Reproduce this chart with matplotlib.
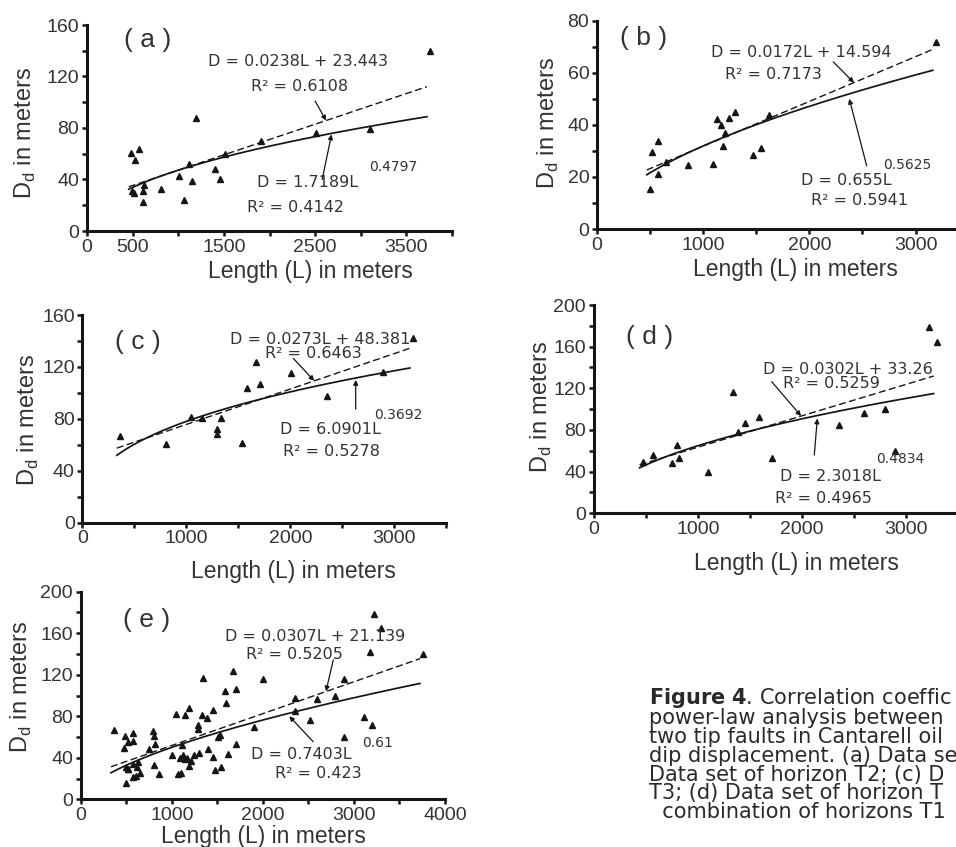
import matplotlib
matplotlib.use('Agg')
import matplotlib.pyplot as plt
import numpy as np

plt.rcParams['font.family'] = ['Liberation Sans', 'DejaVu Sans']

# (a) horizon T1: fault length L (m) vs dip displacement Dd (m)
a_len = [487, 524, 571, 498, 520, 615, 612, 626, 810, 1007, 1066, 1113, 1147, 1194,
         1403, 1458, 1513, 1908, 2513, 3106, 3755]
a_dd = [60.6, 55, 64, 31, 29.5, 31, 22.5, 36, 33, 43, 24, 52, 39, 88,
        48, 40.7, 60, 70, 76, 79.5, 139.6]

# (b) horizon T2
b_len = [499, 515, 578, 578, 650, 860, 1096, 1127, 1165, 1184, 1206, 1246, 1300,
         1473, 1545, 1620, 3193]
b_dd = [15.3, 29.5, 33.9, 21.2, 25.6, 24.7, 25, 42.3, 40, 32, 37, 42.7, 44.9,
        28.5, 31.3, 43.6, 71.7]

# (c) horizon T3
c_len = [362, 801, 1045, 1147, 1330, 1292, 1292, 1532, 1587, 1670, 1708, 2006, 2349, 2888, 3180]
c_dd = [67, 61, 81.7, 81, 81, 72, 68, 61.6, 104, 124, 106.6, 115.6, 97.8, 116, 142]

# (d) horizon T4
d_len = [470, 573, 749, 797, 819, 1094, 1341, 1389, 1453, 1590, 1709, 2355, 2595,
         2797, 2893, 3219, 3293]
d_dd = [49, 56, 48.6, 65.6, 52.8, 40, 116.8, 78.4, 86.4, 92.8, 53.4, 84.8, 96.6,
        100, 60, 178.6, 164.8]

# (e) all horizons together
e_len = a_len + b_len + c_len + d_len
e_dd = a_dd + b_dd + c_dd + d_dd

# fits: linear [slope, intercept], power [coef, exponent], R2 [linear, power]
a_lin, a_pow, a_r2 = [0.0238, 23.443], [1.7189, 0.4797], ['0.6108', '0.4142']
b_lin, b_pow, b_r2 = [0.0172, 14.594], [0.655, 0.5625], ['0.7173', '0.5941']
c_lin, c_pow, c_r2 = [0.0273, 48.381], [6.0901, 0.3692], ['0.6463', '0.5278']
d_lin, d_pow, d_r2 = [0.0302, 33.26], [2.3018, 0.4834], ['0.5259', '0.4965']
e_lin, e_pow, e_r2 = [0.0307, 21.139], [0.7403, 0.61], ['0.5205', '0.423']

W, H = 956, 847
fig = plt.figure(figsize=(W / 100, H / 100), dpi=100)
fig.patch.set_facecolor('white')

TXT = '#333333'
INK = '#151515'


def px_rect(left, right, top, bottom):
    return [left / W, 1 - bottom / H, (right - left) / W, (bottom - top) / H]


def panel(rect, L, D, lin, pw, r2, tag, ymax, ystep, ylabstep, xlabels, xmax,
          pos, ylab_xy, xlab_xy):
    ax = fig.add_axes(rect)
    ax.set_facecolor('none')
    for s in ['top', 'right']:
        ax.spines[s].set_visible(False)
    for s in ['left', 'bottom']:
        ax.spines[s].set_linewidth(2.2)
        ax.spines[s].set_color(INK)
    ax.set_xlim(0, xmax)
    ax.set_ylim(0, ymax)
    xt = np.arange(0, xmax + 1, 500)
    ax.set_xticks(xt)
    ax.set_xticklabels([str(int(v)) if int(v) in xlabels else '' for v in xt])
    yt = np.arange(0, ymax + 1, ystep)
    ax.set_yticks(yt)
    ax.set_yticklabels([str(int(v)) if int(v) % ylabstep == 0 else '' for v in yt])
    ax.tick_params(direction='out', length=3.5, width=1.8, color=INK,
                   labelsize=14, labelcolor=TXT, pad=2)

    ax.plot(L, D, linestyle='none', marker='^', markersize=5, color=INK,
            clip_on=False, zorder=3)

    xs = np.linspace(min(L) - 30, max(L) - 30, 200)
    ax.plot(xs, lin[0] * xs + lin[1], linestyle=(0, (5, 2.5)), color=INK, lw=1.0)
    ax.plot(xs, pw[0] * xs ** pw[1], linestyle='-', color=INK, lw=1.25)

    eqf = dict(family='DejaVu Sans', color=TXT, ha='center', va='center')
    ax.text(*pos['eq1'], 'D = %sL + %s' % (lin[0], lin[1]), fontsize=11.5, **eqf)
    ax.text(*pos['r1'], 'R\u00b2 = ' + r2[0], fontsize=11.5, **eqf)
    ax.text(*pos['eq2'], 'D = %sL' % pw[0], fontsize=11.5, **eqf)
    ax.text(*pos['ex'], str(pw[1]), fontsize=10, **eqf)
    ax.text(*pos['r2'], 'R\u00b2 = ' + r2[1], fontsize=11.5, **eqf)
    arr = dict(arrowstyle='-|>', lw=0.9, color=INK, mutation_scale=7,
               shrinkA=0, shrinkB=0)
    ax.annotate('', xy=pos['a1'][1], xytext=pos['a1'][0], arrowprops=arr)
    ax.annotate('', xy=pos['a2'][1], xytext=pos['a2'][0], arrowprops=arr)

    ax.text(*pos['tag'], '( %s )' % tag, fontsize=19, color=TXT,
            ha='center', va='center')

    ax.set_ylabel('D$_\\mathregular{d}$ in meters', fontsize=17, color=TXT)
    ax.set_xlabel('Length (L) in meters', fontsize=16.5, color=TXT)
    ax.yaxis.set_label_coords(*ylab_xy)
    ax.xaxis.set_label_coords(*xlab_xy)
    ax.yaxis.label.set_va('center')
    ax.xaxis.label.set_va('center')
    return ax


panel(px_rect(87, 452, 25, 231), a_len, a_dd, a_lin, a_pow, a_r2, 'a',
      160, 20, 40, [0, 500, 1500, 2500, 3500], 4000,
      dict(eq1=(2314, 132), r1=(2325, 112), eq2=(2412, 37.3), ex=(3355, 49.7),
           r2=(2281, 17.9), a1=((2500, 101), (2620, 85.8)),
           a2=((2577, 40), (2680, 75)), tag=(669, 148)),
      (-0.170, 0.476), (0.611, -0.198))

panel(px_rect(597, 968.6, 20.7, 229), b_len, b_dd, b_lin, b_pow, b_r2, 'b',
      80, 10, 20, [0, 1000, 2000, 3000], 3500,
      dict(eq1=(1927, 67.7), r1=(1660, 59.5), eq2=(2351, 18.8), ex=(2926, 24.6),
           r2=(2477, 10.9), a1=((2225, 64.2), (2420, 56.2)),
           a2=((2540, 24.3), (2376, 50)), tag=(436, 73.2)),
      (-0.131, 0.507), (0.533, -0.193))

panel(px_rect(82.3, 446.3, 315, 522.7), c_len, c_dd, c_lin, c_pow, c_r2, 'c',
      160, 20, 40, [0, 1000, 2000, 3000], 3500,
      dict(eq1=(2286, 140.8), r1=(2221, 130.5), eq2=(2382, 72), ex=(3039, 83),
           r2=(2398, 55.2), a1=((2029, 126.6), (2230, 109.3)),
           a2=((2629, 87.4), (2629, 110)), tag=(539, 139.4)),
      (-0.148, 0.494), (0.580, -0.236))

panel(px_rect(593.7, 958.4, 305, 513.3), d_len, d_dd, d_lin, d_pow, d_r2, 'd',
      200, 20, 40, [0, 1000, 2000, 3000], 3500,
      dict(eq1=(2443, 137.6), r1=(2284, 124.8), eq2=(2268, 35.1), ex=(2946, 51.8),
           r2=(2204, 14.4), a1=((1708, 126.4), (1990, 93.4)),
           a2=((2117, 56), (2146, 91)), tag=(540, 169.6)),
      (-0.143, 0.512), (0.557, -0.240))

panel(px_rect(80.7, 445, 591.7, 799.3), e_len, e_dd, e_lin, e_pow, e_r2, 'e',
      200, 20, 40, [0, 1000, 2000, 3000, 4000], 4000,
      dict(eq1=(2572, 156.6), r1=(2352, 139.7), eq2=(2426, 43.4), ex=(3256, 54.5),
           r2=(2608, 25), a1=((2773, 134.2), (2693, 104)),
           a2=((2553, 55.5), (2290, 80)), tag=(724, 172.7)),
      (-0.162, 0.542), (0.501, -0.180))

# caption, cut off by the right edge as in the source
caption = [
    r'$\bf{Figure\ 4}$. Correlation coeffic',
    'power-law analysis between',
    'two tip faults in Cantarell oil',
    'dip displacement. (a) Data se',
    'Data set of horizon T2; (c) D',
    'T3; (d) Data set of horizon T',
    '  combination of horizons T1',
]
fig.text(649 / W, 1 - 818.3 / H, '\n'.join(caption), fontsize=15,
         family='DejaVu Sans', color='#2a2a2a', ha='left', va='baseline',
         linespacing=0.925)

fig.savefig('out.png', dpi=100, facecolor='white')
